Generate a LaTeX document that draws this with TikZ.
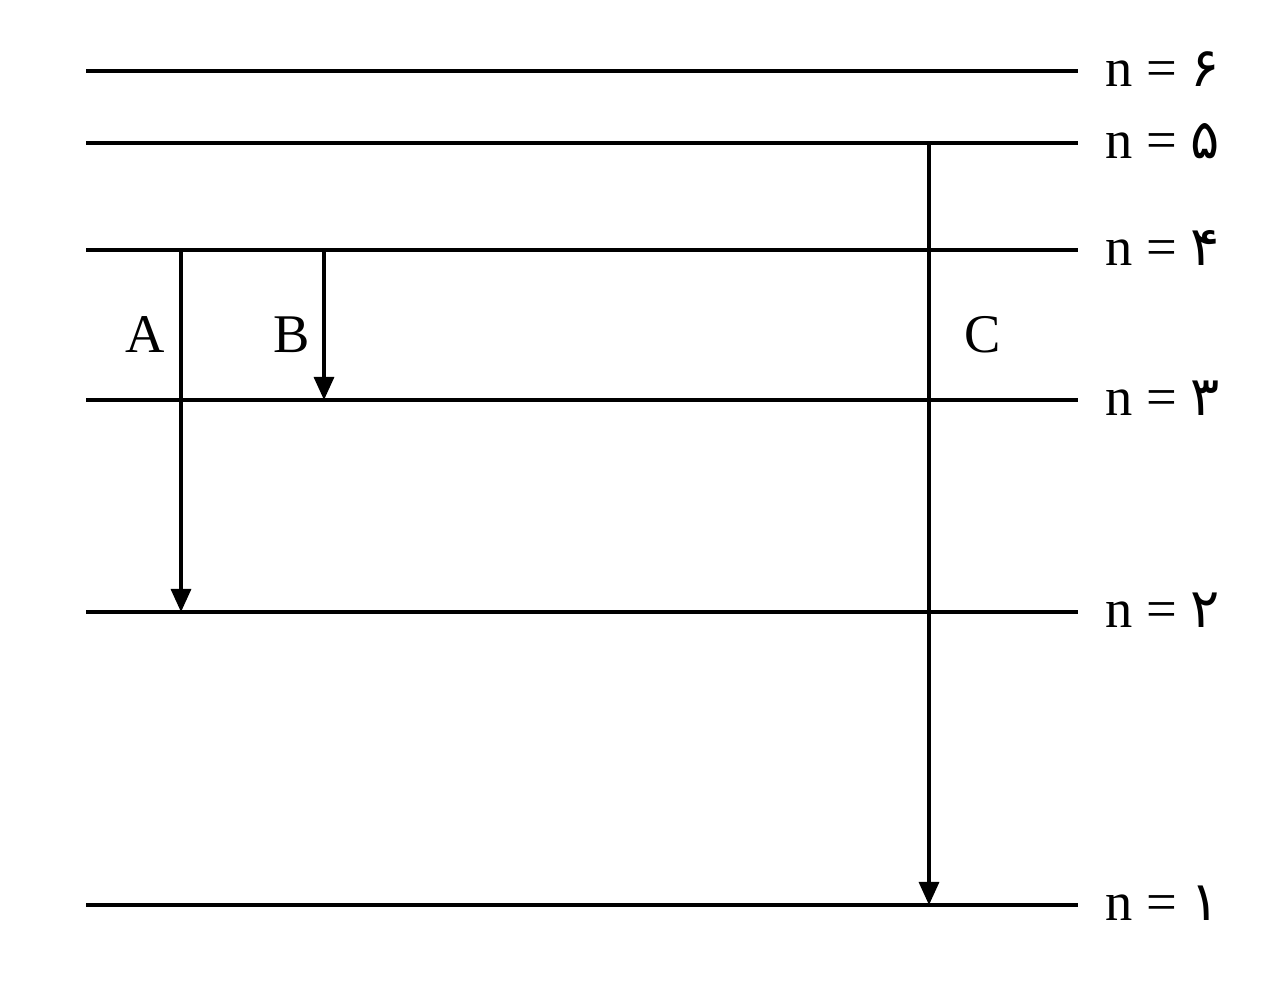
\documentclass[tikz,border=0pt]{standalone}
\usepackage{fontspec}
\setmainfont{Liberation Serif}
\newfontfamily\persfont[Script=Arabic]{DejaVu Sans}
\usetikzlibrary{arrows.meta}
\tikzstyle{level} = [line width=1.8pt]
\tikzstyle{lvllabel} = [anchor=base west, inner sep=0pt, font=\fontsize{31}{37}\selectfont]
\tikzstyle{translabel} = [inner sep=0pt, font=\fontsize{31}{37}\selectfont]
\tikzstyle{trans} = [line width=1.8pt, -{Stealth[length=0.46cm,width=0.4cm,inset=0pt]}]
\begin{document}
\begin{tikzpicture}

\useasboundingbox (0,0) rectangle (25.6,19.66);

% energy levels
\foreach \nm/\y/\d in {6/18.24/۶, 5/16.8/۵, 4/14.66/۴, 3/11.66/۳, 2/7.42/۲, 1/1.56/۱} {
  \coordinate (w\nm) at (1.72,\y);
  \coordinate (e\nm) at (21.56,\y);
  \draw [level] (w\nm) -- (e\nm);
  \node (n\nm) [lvllabel] at (22.1,\y-0.32) {n = {\persfont\d}};
}

% transitions
\coordinate (a4) at (3.62,14.66);
\coordinate (a2) at (3.62,7.42);
\coordinate (b4) at (6.48,14.66);
\coordinate (b3) at (6.48,11.66);
\coordinate (c5) at (18.58,16.8);
\coordinate (c1) at (18.58,1.56);

\draw [trans] (a4) -- (a2);
\draw [trans] (b4) -- (b3);
\draw [trans] (c5) -- (c1);

\node (labA) [translabel] at (2.9,12.96) {A};
\node (labB) [translabel] at (5.84,12.96) {B};
\node (labC) [translabel] at (19.66,12.96) {C};

\end{tikzpicture}
\end{document}
